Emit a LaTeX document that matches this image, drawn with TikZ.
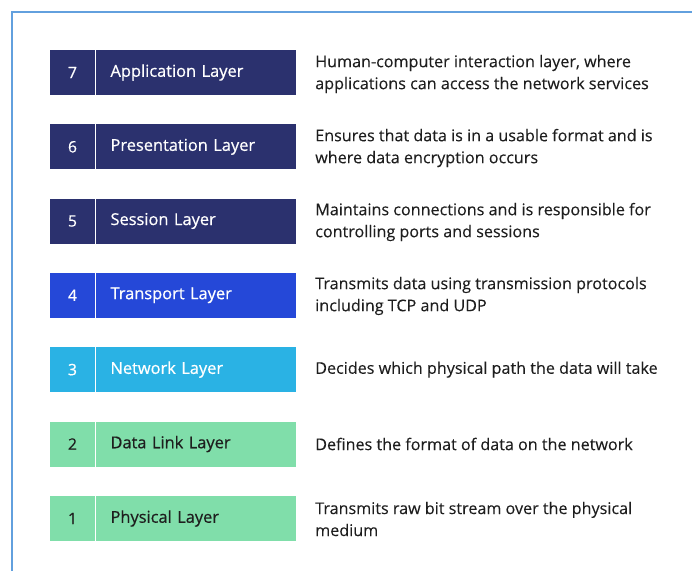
\documentclass[tikz,border=0pt]{standalone}
\usepackage{fontspec}
\setmainfont{Open Sans}
\newfontfamily\labelfont[FakeBold=0.6]{Open Sans}
\newfontfamily\descfont[FakeBold=0.15]{Open Sans}
\usepackage{xcolor}
\usetikzlibrary{positioning}
\definecolor{osinavy}{RGB}{43,49,110}
\definecolor{osiblue}{RGB}{37,72,216}
\definecolor{osicyan}{RGB}{42,178,228}
\definecolor{osigreen}{RGB}{128,222,170}
\definecolor{ositext}{RGB}{30,30,30}
\definecolor{frameblue}{RGB}{98,160,222}

\begin{document}
\begin{tikzpicture}[
    x=0.75pt, y=-0.75pt,
    numbox/.style={rectangle, minimum width=33.75pt, minimum height=33.75pt, inner sep=0pt, font=\labelfont\fontsize{11.8}{12}\selectfont},
    laybox/.style={rectangle, minimum height=33.75pt, inner xsep=11.25pt, inner ysep=0pt, text width=127.5pt, align=left, font=\labelfont\fontsize{12.3}{12}\selectfont},
    desc/.style={anchor=west, inner sep=0pt, align=left, text=ositext, font=\descfont\fontsize{12.1}{16.5}\selectfont},
    sep/.style={white, line width=1pt}
]
\useasboundingbox (0,0) rectangle (692,571);

% Frame
\draw[frameblue, line width=1.5pt] (692,12) -- (12,12) -- (12,571);

% Layer 7
\node[numbox, fill=osinavy, text=white] (num7) at (72.5,72.5) {7};
\node[laybox, fill=osinavy, text=white, right=0pt of num7] (lay7) {Application Layer};
\draw[sep] (num7.north east) -- (num7.south east);
\node[desc] (desc7) at (315,74) {Human-computer interaction layer, where\\applications can access the network services};

% Layer 6
\node[numbox, fill=osinavy, text=white] (num6) at (72.5,146.8) {6};
\node[laybox, fill=osinavy, text=white, right=0pt of num6] (lay6) {Presentation Layer};
\draw[sep] (num6.north east) -- (num6.south east);
\node[desc] (desc6) at (315,148) {Ensures that data is in a usable format and is\\where data encryption occurs};

% Layer 5
\node[numbox, fill=osinavy, text=white] (num5) at (72.5,221) {5};
\node[laybox, fill=osinavy, text=white, right=0pt of num5] (lay5) {Session Layer};
\draw[sep] (num5.north east) -- (num5.south east);
\node[desc] (desc5) at (315,222) {Maintains connections and is responsible for\\controlling ports and sessions};

% Layer 4
\node[numbox, fill=osiblue, text=white] (num4) at (72.5,295.3) {4};
\node[laybox, fill=osiblue, text=white, right=0pt of num4] (lay4) {Transport Layer};
\draw[sep] (num4.north east) -- (num4.south east);
\node[desc] (desc4) at (315,296) {Transmits data using transmission protocols\\including TCP and UDP};

% Layer 3
\node[numbox, fill=osicyan, text=white] (num3) at (72.5,369.6) {3};
\node[laybox, fill=osicyan, text=white, right=0pt of num3] (lay3) {Network Layer};
\draw[sep] (num3.north east) -- (num3.south east);
\node[desc] (desc3) at (315,369.6) {Decides which physical path the data will take};

% Layer 2
\node[numbox, fill=osigreen, text=ositext] (num2) at (72.5,444) {2};
\node[laybox, fill=osigreen, text=ositext, right=0pt of num2] (lay2) {Data Link Layer};
\draw[sep] (num2.north east) -- (num2.south east);
\node[desc] (desc2) at (315,444) {Defines the format of data on the network};

% Layer 1
\node[numbox, fill=osigreen, text=ositext] (num1) at (72.5,518.5) {1};
\node[laybox, fill=osigreen, text=ositext, right=0pt of num1] (lay1) {Physical Layer};
\draw[sep] (num1.north east) -- (num1.south east);
\node[desc] (desc1) at (315,519) {Transmits raw bit stream over the physical\\medium};
\end{tikzpicture}
\end{document}
